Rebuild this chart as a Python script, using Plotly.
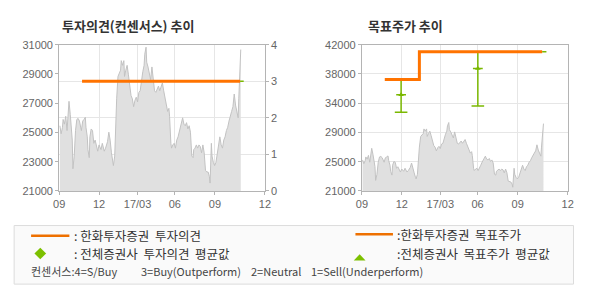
import plotly.graph_objects as go

# ---------------- data ----------------
# trading-day index since start of Sep 2016
price_day = [1, 3, 5, 6, 8, 10, 12, 14, 15, 17, 19, 20, 21, 23, 25, 27, 29, 31, 34, 36, 38, 40, 41, 43, 44, 46, 47, 49,
             51, 53, 55, 57, 59, 61, 64, 66, 69, 71, 74, 76, 78, 80, 82, 83, 85, 86, 88, 90, 92, 94, 95, 97, 99, 100,
             102, 104, 106, 108, 110, 112, 114, 116, 118, 120, 122, 124, 126, 128, 130, 131, 133, 134, 136, 138, 140,
             142, 144, 146, 148, 150, 152, 154, 156, 158, 160, 162, 164, 166, 168, 169, 171, 172, 174, 176, 178, 180,
             182, 184, 186, 188, 189, 191, 193, 195, 197, 199, 201, 203, 205, 206, 208, 210, 212, 214, 216, 218, 220,
             222, 224, 226, 228, 230, 231, 233, 234, 236, 238, 240, 242, 244, 246, 248, 250, 252, 254, 256, 258, 260,
             262, 264, 266, 268, 270, 272, 274, 275, 276, 277, 278]
price = [25460, 24910, 25350, 25890, 25570, 26110, 25130, 26440, 27130, 26220, 25130, 24480, 22520, 23390, 25130,
         25890, 25960, 25780, 25130, 25780, 25890, 26040, 25350, 24700, 23830, 23280, 24700, 25240,
         25130, 24260, 24480, 24040, 23720, 24150, 23830, 24260, 23720, 23930, 24370, 25020, 24480, 23610, 22960,
         22740, 23390, 25130, 27300, 28830, 29040, 29260, 29910, 29590, 29910, 28830,
         29260, 29590, 28940, 28280, 27520, 27300, 26760, 27200, 27410, 27090, 27740, 27850, 28610, 29150, 29590,
         30350, 30830, 29800, 29480, 29040, 28610,
         29480, 28830, 27850, 27740, 27960, 28170, 27850, 28070, 28390, 27850, 27300, 26760, 26440, 26650, 26110,
         24260, 23930, 24150, 24260, 23930, 24480,
         24700, 25130, 25570, 25890, 26000, 25570, 25460, 25670, 25240, 25460, 25020, 23390, 23280, 23830, 23930,
         24150, 23930, 24150, 24040, 23610, 24150,
         23610, 22410, 22300, 22300, 21980, 21540, 24260, 23390, 22960, 22740, 22960, 23610, 24260, 24700, 24150,
         23930, 24480, 24700, 25130, 25350, 25780,
         26220, 26440, 26760, 27630, 26870, 26440, 26000, 27300, 28610, 29910, 30670]

opinion_day = [35, 277]
opinion = [3, 3]
cons_opinion_day = [277, 282.5]
cons_opinion = [3, 3]

target_day = [35, 88, 276]
target = [37000, 41000, 41000]
cons_target_end_day = [276, 282.5]
cons_target_end = [41000, 41000]

cons_day = [60, 177.5]
cons_avg = [34800, 38600]
cons_hi = [37000, 41000]
cons_lo = [32300, 33200]

tick_day = [0, 61, 120, 177, 238.5, 315]
tick_label = ["09", "12", "17/03", "06", "09", "12"]
y3_tickvals = [21000, 25200, 29400, 33600, 37800, 42000]
y3_ticktext = ["21000", "25000", "29000", "34000", "38000", "42000"]

# ---------------- layout helpers ----------------
W, H = 590, 300
def px(x):
    return x / W
def py(y):
    return 1 - y / H

ORANGE = "#ff7300"
GREEN = "#7ab800"
AREA_FILL = "#e0e0e0"
AREA_LINE = "#c2c2c2"
GRID = "#e6e6e6"
AXLINE = "#b4b4b4"
TICKFONT = dict(family="Liberation Sans, Arial, sans-serif", size=11, color="#666666")

fig = go.Figure()

# left chart
fig.add_trace(go.Scatter(x=price_day, y=price, xaxis="x", yaxis="y", mode="lines",
                         fill="tozeroy", fillcolor=AREA_FILL, line=dict(color=AREA_LINE, width=1)))
fig.add_trace(go.Scatter(x=opinion_day, y=opinion, xaxis="x", yaxis="y2", mode="lines",
                         line=dict(color=ORANGE, width=3)))
fig.add_trace(go.Scatter(x=cons_opinion_day, y=cons_opinion, xaxis="x", yaxis="y2", mode="lines",
                         line=dict(color=GREEN, width=1.5)))

# right chart
fig.add_trace(go.Scatter(x=price_day, y=price, xaxis="x2", yaxis="y3", mode="lines",
                         fill="tozeroy", fillcolor=AREA_FILL, line=dict(color=AREA_LINE, width=1)))
fig.add_trace(go.Scatter(x=[cons_day[0], cons_day[0]], y=[cons_lo[0], cons_hi[0]], xaxis="x2", yaxis="y3",
                         mode="lines", line=dict(color=GREEN, width=1.5)))
fig.add_trace(go.Scatter(x=[cons_day[1], cons_day[1]], y=[cons_lo[1], cons_hi[1]], xaxis="x2", yaxis="y3",
                         mode="lines", line=dict(color=GREEN, width=1.5)))
fig.add_trace(go.Scatter(x=cons_day, y=cons_lo, xaxis="x2", yaxis="y3", mode="markers",
                         marker=dict(symbol="line-ew", size=9, line=dict(color=GREEN, width=1.5))))
fig.add_trace(go.Scatter(x=cons_day, y=cons_avg, xaxis="x2", yaxis="y3", mode="markers",
                         marker=dict(symbol="line-ew", size=7, line=dict(color=GREEN, width=1.5))))
fig.add_trace(go.Scatter(x=cons_day, y=cons_avg, xaxis="x2", yaxis="y3", mode="markers",
                         marker=dict(symbol="triangle-up", size=5, color=GREEN, line=dict(width=0))))
fig.add_trace(go.Scatter(x=target_day, y=target, xaxis="x2", yaxis="y3", mode="lines",
                         line=dict(color=ORANGE, width=3, shape="hv")))
fig.add_trace(go.Scatter(x=cons_target_end_day, y=cons_target_end, xaxis="x2", yaxis="y3", mode="lines",
                         line=dict(color=GREEN, width=1.5)))

ydom = [py(192.7), py(40.3)]
xdom1 = [px(54.3), px(264.3)]
xdom2 = [px(363.3), px(573.3)]

xcommon = dict(range=[0, 315], tickmode="array", tickvals=tick_day, ticktext=tick_label,
               showgrid=True, gridcolor=GRID, gridwidth=1, showline=True, linecolor=AXLINE, linewidth=1,
               mirror=True, ticks="outside", ticklen=3, tickcolor=AXLINE, tickfont=TICKFONT,
               zeroline=False, fixedrange=True)

fig.update_layout(
    width=W, height=H, margin=dict(l=0, r=0, t=0, b=0),
    paper_bgcolor="white", plot_bgcolor="white", showlegend=False,
    xaxis=dict(domain=xdom1, anchor="y", **xcommon),
    yaxis=dict(domain=ydom, anchor="x", range=[21000, 31000], tickvals=[21000, 23000, 25000, 27000, 29000, 31000],
               ticktext=["21000", "23000", "25000", "27000", "29000", "31000"],
               showgrid=False, showline=True, linecolor=AXLINE, ticks="outside", ticklen=3, tickcolor=AXLINE,
               tickfont=TICKFONT, zeroline=False),
    yaxis2=dict(overlaying="y", anchor="x", side="right", range=[0, 4], tickvals=[0, 1, 2, 3, 4],
                showgrid=True, gridcolor=GRID, showline=True, linecolor=AXLINE, ticks="outside", ticklen=3,
                tickcolor=AXLINE, tickfont=TICKFONT, zeroline=False),
    xaxis2=dict(domain=xdom2, anchor="y3", **xcommon),
    yaxis3=dict(domain=ydom, anchor="x2", range=[21000, 42000], tickmode="array", tickvals=y3_tickvals,
                ticktext=y3_ticktext, showgrid=True, gridcolor=GRID, showline=True, linecolor=AXLINE,
                mirror=True, ticks="outside", ticklen=3, tickcolor=AXLINE, tickfont=TICKFONT, zeroline=False),
)

KFONT = "Noto Sans CJK KR, sans-serif"
LEG = dict(family=KFONT, size=12.5, color="#333333")
SMALL = dict(family=KFONT, size=11, color="#444444")
annotations = [
    dict(text="<b>투자의견(컨센서스) 추이</b>", x=px(55), y=py(20.7), xanchor="left", yanchor="middle",
         font=dict(family=KFONT, size=13, color="#333333")),
    dict(text="<b>목표주가 추이</b>", x=px(367), y=py(20.7), xanchor="left", yanchor="middle",
         font=dict(family=KFONT, size=13, color="#333333")),
    dict(text=":\u00a0한화투자증권\u00a0\u00a0투자의견", x=px(67.5), y=py(239.3), xanchor="left", yanchor="middle",
         font=LEG),
    dict(text=":\u00a0전체증권사\u00a0\u00a0투자의견\u00a0\u00a0평균값", x=px(67.5), y=py(258), xanchor="left",
         yanchor="middle", font=LEG),
    dict(text=":한화투자증권\u00a0\u00a0목표주가", x=px(397.5), y=py(238.3), xanchor="left", yanchor="middle",
         font=LEG),
    dict(text=":전체증권사\u00a0\u00a0목표주가\u00a0\u00a0평균값", x=px(397.5), y=py(258.3), xanchor="left",
         yanchor="middle", font=LEG),
    dict(text="컨센서스:4=S/Buy", x=px(23.5), y=py(276), xanchor="left", yanchor="middle", font=SMALL),
    dict(text="3=Buy(Outperform)", x=px(136), y=py(276), xanchor="left", yanchor="middle", font=SMALL),
    dict(text="2=Neutral", x=px(248), y=py(276), xanchor="left", yanchor="middle", font=SMALL),
    dict(text="1=Sell(Underperform)", x=px(309), y=py(276), xanchor="left", yanchor="middle", font=SMALL),
]
for a in annotations:
    a.update(xref="paper", yref="paper", showarrow=False)
fig.update_layout(annotations=annotations)

shapes = [
    dict(type="rect", x0=px(8.3), x1=px(579.3), y0=py(289.7), y1=py(228.7),
         line=dict(color="#dcdcdc", width=1), fillcolor="#fafafa", layer="below"),
    dict(type="line", x0=px(25.6), x1=px(64.7), y0=py(239.3), y1=py(239.3), line=dict(color="#ee7000", width=2.5)),
    dict(type="line", x0=px(356.7), x1=px(395), y0=py(237.7), y1=py(237.7), line=dict(color="#ee7000", width=2.5)),
    dict(type="path", path="M {} {} L {} {} L {} {} L {} {} Z".format(
        px(29), py(257.7), px(35), py(251.7), px(41), py(257.7), px(35), py(263.7)),
         line=dict(width=0), fillcolor="#7cc000"),
    dict(type="path", path="M {} {} L {} {} L {} {} Z".format(
        px(355), py(265), px(367), py(265), px(361), py(258.5)),
         line=dict(width=0), fillcolor="#7cc000"),
]
for s in shapes:
    s.update(xref="paper", yref="paper")
fig.update_layout(shapes=shapes)

fig.write_html("out.html")
